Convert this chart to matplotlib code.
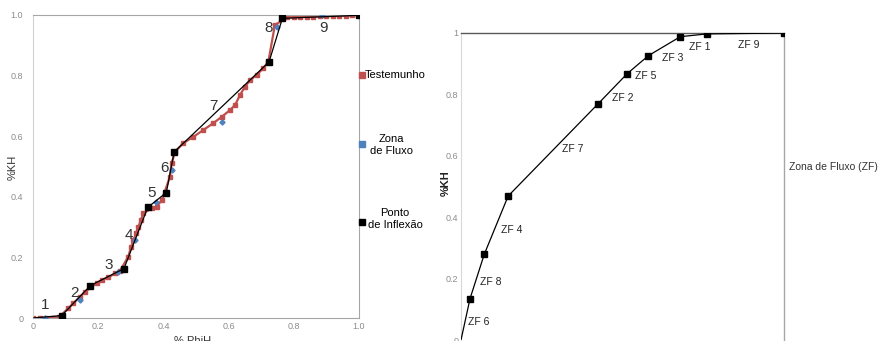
#!/usr/bin/env python3

import matplotlib
matplotlib.use('Agg')
import matplotlib.pyplot as plt
from matplotlib.lines import Line2D

# --- left panel: Lorenz plot (%PhiH x %KH) ---
testemunho_x = [0.0, 0.02, 0.04, 0.06, 0.08, 0.108, 0.124, 0.144, 0.16, 0.195, 0.211, 0.231,
                0.252, 0.267, 0.292, 0.301, 0.308, 0.316, 0.323, 0.331, 0.338, 0.364, 0.379,
                0.395, 0.420, 0.425, 0.436, 0.461, 0.492, 0.522, 0.553, 0.579, 0.604, 0.620,
                0.635, 0.650, 0.666, 0.686, 0.706, 0.722, 0.742, 0.78, 0.80, 0.82, 0.84, 0.86,
                0.88, 0.90, 0.92, 0.94, 0.96, 0.98, 1.0]
testemunho_y = [0.0, 0.0, 0.0, 0.0, 0.003, 0.032, 0.049, 0.070, 0.087, 0.115, 0.125, 0.134,
                0.147, 0.156, 0.202, 0.235, 0.257, 0.279, 0.301, 0.323, 0.345, 0.362, 0.367,
                0.389, 0.466, 0.510, 0.549, 0.577, 0.598, 0.620, 0.643, 0.664, 0.686, 0.703,
                0.736, 0.763, 0.785, 0.802, 0.824, 0.846, 0.967, 0.992, 0.993, 0.994, 0.995,
                0.995, 0.996, 0.996, 0.997, 0.997, 0.998, 0.999, 1.0]

zona_x = [0.037, 0.144, 0.262, 0.313, 0.377, 0.425, 0.581, 0.747, 0.886]
zona_y = [0.0, 0.060, 0.153, 0.257, 0.384, 0.488, 0.648, 0.961, 1.0]

inflexao_x = [0.0, 0.088, 0.176, 0.279, 0.352, 0.409, 0.433, 0.724, 0.765, 1.0]
inflexao_y = [0.0, 0.008, 0.107, 0.163, 0.365, 0.414, 0.548, 0.845, 0.989, 0.999]

# zone number labels
zone_numbers = ['1', '2', '3', '4', '5', '6', '7', '8', '9']
zone_num_x = [0.037, 0.128, 0.233, 0.294, 0.365, 0.402, 0.552, 0.724, 0.89]
zone_num_y = [0.043, 0.082, 0.175, 0.274, 0.413, 0.495, 0.700, 0.957, 0.957]

# --- right panel: stratigraphic modified Lorenz plot ---
zf_x = [0.0, 0.028, 0.072, 0.146, 0.425, 0.515, 0.580, 0.679, 0.761, 1.0]
zf_y = [0.0, 0.135, 0.279, 0.469, 0.770, 0.868, 0.926, 0.988, 0.997, 1.0]
zf_labels = ['ZF 6', 'ZF 8', 'ZF 4', 'ZF 7', 'ZF 2', 'ZF 5', 'ZF 3', 'ZF 1', 'ZF 9']
zf_label_x = [0.022, 0.059, 0.124, 0.313, 0.467, 0.539, 0.622, 0.706, 0.858]
zf_label_y = [0.058, 0.190, 0.358, 0.622, 0.788, 0.859, 0.919, 0.954, 0.962]

y_ticks = [0, 0.2, 0.4, 0.6, 0.8, 1.0]

narrow = ['Liberation Sans Narrow', 'DejaVu Sans Condensed', 'Liberation Sans', 'DejaVu Sans']
tick_grey = '#8c8c8c'
red = '#c0504d'
blue = '#4f81bd'


def style_ticks(ax, ypad):
    ax.tick_params(length=0, labelsize=6.5, colors=tick_grey)
    ax.tick_params(axis='x', pad=3)
    ax.tick_params(axis='y', pad=ypad)
    for lab in ax.get_xticklabels() + ax.get_yticklabels():
        lab.set_family(narrow)


fig = plt.figure(figsize=(8.92, 3.41), dpi=100)

# left panel
ax1 = fig.add_axes([33 / 892, 23 / 341, 326 / 892, 303 / 341])
ax1.plot(testemunho_x, testemunho_y, color=red, lw=1.6, marker='s', ms=2.6,
         mec=red, mfc=red, zorder=2)
ax1.plot(zona_x, zona_y, ls='none', marker='D', ms=2.6, color=blue, zorder=3)
ax1.plot(inflexao_x, inflexao_y, color='black', lw=0.9, zorder=4)
ax1.plot(inflexao_x[1:], inflexao_y[1:], ls='none', marker='s', ms=5, color='black', zorder=5)
for t, x, y in zip(zone_numbers, zone_num_x, zone_num_y):
    ax1.text(x, y, t, fontsize=11, family=narrow, color='#333333', ha='center', va='center')
ax1.set_xlim(0, 1)
ax1.set_ylim(0, 1)
ax1.set_xticks(y_ticks)
ax1.set_yticks(y_ticks)
ax1.set_xticklabels(['0', '0.2', '0.4', '0.6', '0.8', '1.0'])
ax1.set_yticklabels(['0', '0.2', '0.4', '0.6', '0.8', '1.0'])
style_ticks(ax1, 7)
for side in ['left', 'right', 'top', 'bottom']:
    ax1.spines[side].set_color('#a6a6a6')
    ax1.spines[side].set_linewidth(0.8)
ax1.spines['left'].set_color('#d0d0d0')
fig.text(13 / 892, 1 - 167 / 341, '%KH', fontsize=8, family=narrow, color='#333333',
         rotation=90, ha='center', va='center')
fig.text(193 / 892, 1 - 336 / 341, '% PhiH', fontsize=8, family=narrow, color='#333333',
         ha='center', va='top')

# legend drawn by hand next to the left panel
legend_items = [(red, 75), (blue, 144), ('black', 222)]
for color, py in legend_items:
    fig.add_artist(Line2D([362 / 892], [1 - py / 341], marker='s', ms=3.8, color=color,
                          mec=color, transform=fig.transFigure))
fig.text(365 / 892, 1 - 75 / 341, 'Testemunho', fontsize=8, family=narrow, ha='left', va='center')
fig.text(391 / 892, 1 - 145 / 341, 'Zona\nde Fluxo', fontsize=8, family=narrow, ha='center',
         va='center', multialignment='center', linespacing=1.2)
fig.text(395 / 892, 1 - 219 / 341, 'Ponto\nde Inflexão', fontsize=8, family=narrow, ha='center',
         va='center', multialignment='center', linespacing=1.2)

# right panel
ax2 = fig.add_axes([461 / 892, 1 / 341, 323 / 892, 307 / 341])
ax2.plot(zf_x, zf_y, color='black', lw=0.9, zorder=3)
ax2.plot(zf_x[1:], zf_y[1:], ls='none', marker='s', ms=5, color='black', zorder=4)
for t, x, y in zip(zf_labels, zf_label_x, zf_label_y):
    ax2.text(x, y, t, fontsize=7.5, family=narrow, color='#222222', ha='left', va='center')
ax2.set_xlim(0, 1)
ax2.set_ylim(0, 1)
ax2.set_xticks([])
ax2.set_yticks(y_ticks)
ax2.set_yticklabels(['0', '0.2', '0.4', '0.6', '0.8', '1'])
style_ticks(ax2, 2)
ax2.spines['bottom'].set_visible(False)
ax2.spines['left'].set_color('#d9d9d9')
ax2.spines['left'].set_linewidth(0.8)
ax2.spines['top'].set_color('#595959')
ax2.spines['top'].set_linewidth(1.0)
ax2.spines['right'].set_color('#a6a6a6')
ax2.spines['right'].set_linewidth(1.0)
fig.text(446 / 892, 1 - 183 / 341, '%KH', fontsize=8, family=narrow, fontweight='bold',
         color='#222222', rotation=90, ha='center', va='center')
fig.text(789 / 892, 1 - 167 / 341, 'Zona de Fluxo (ZF)', fontsize=7.5,
         family=narrow, color='#333333', ha='left', va='center')

fig.savefig('out.png', dpi=100)
